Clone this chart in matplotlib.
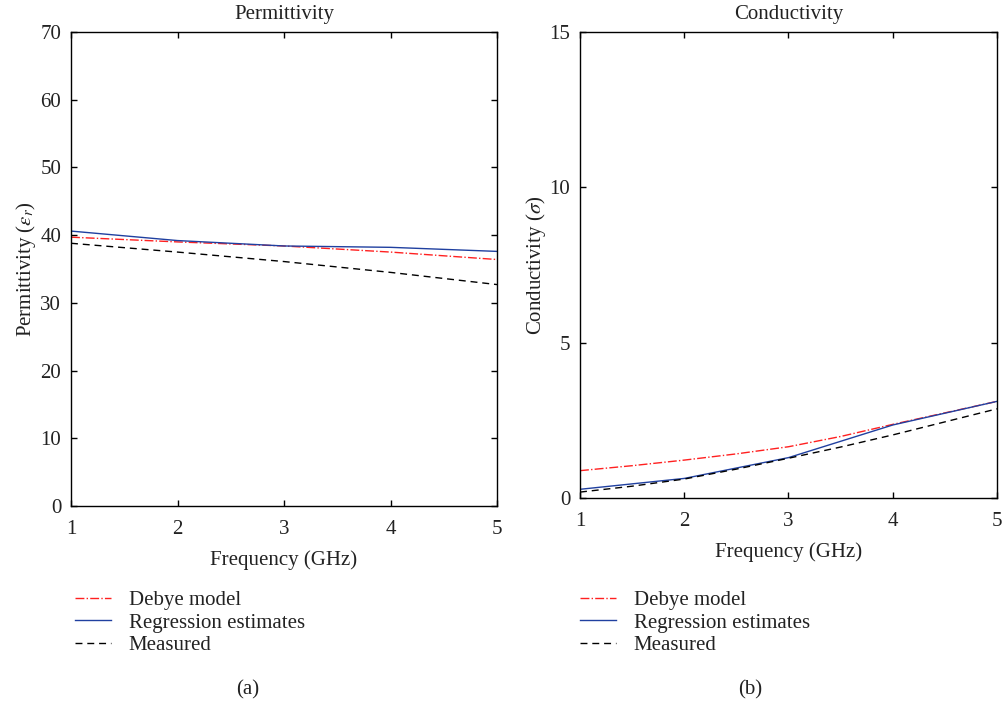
import numpy as np
import matplotlib.pyplot as plt

plt.rcParams['font.family'] = ['Liberation Serif', 'DejaVu Serif']
plt.rcParams['mathtext.fontset'] = 'stix'
plt.rcParams['text.color'] = '#222222'
plt.rcParams['xtick.labelcolor'] = '#222222'
plt.rcParams['ytick.labelcolor'] = '#222222'
plt.rcParams['axes.labelcolor'] = '#222222'

# frequency grid (GHz)
freq = [1, 2, 3, 4, 5]
freq_fine = [1, 1.5, 2, 2.5, 3, 3.5, 4, 4.5, 5]

# permittivity
perm_debye = [39.7, 39.0, 38.4, 37.5, 36.4]
perm_regr = [40.6, 39.2, 38.4, 38.2, 37.6]
perm_meas = [38.8, 37.5, 36.1, 34.5, 32.7]

# conductivity
cond_debye = [0.88, 1.04, 1.22, 1.42, 1.65, 1.98, 2.37, 2.74, 3.11]
cond_regr = [0.28, 0.63, 1.30, 2.35, 3.11]
cond_meas = [0.19, 0.38, 0.61, 0.93, 1.28, 1.64, 2.03, 2.45, 2.87]

labels = ['Debye model', 'Regression estimates', 'Measured']
FS = 15

fig = plt.figure(figsize=(10.03, 7.02), dpi=100)
W, H = 1003, 702
ax1 = fig.add_axes([71 / W, 1 - 506 / H, (497 - 71) / W, (506 - 32) / H])
ax2 = fig.add_axes([580 / W, 1 - 498 / H, (997 - 580) / W, (498 - 32) / H])


def style(ax):
    ax.tick_params(direction='in', top=True, right=True, labelsize=FS,
                   length=4, width=1)
    ax.tick_params(axis='x', pad=10)
    ax.tick_params(axis='y', pad=7)
    for s in ax.spines.values():
        s.set_linewidth(1.0)
    ax.set_xlim(1, 5)
    ax.set_xticks([1, 2, 3, 4, 5])
    ax.set_xlabel('Frequency (GHz)', fontsize=FS, labelpad=8)


l1, = ax1.plot(freq, perm_debye, color='#ff2020', ls='-.', lw=1.0)
l2, = ax1.plot(freq, perm_regr, color='#2040a0', ls='-', lw=1.0)
l3, = ax1.plot(freq, perm_meas, color='black', ls='--', lw=1.0, dashes=(5, 3.5))
ax1.set_ylim(0, 70)
ax1.set_yticks(range(0, 71, 10))
style(ax1)
ax1.set_title('Permittivity', fontsize=FS, pad=9)
ax1.set_ylabel(r'Permittivity ($\varepsilon_r$)', fontsize=FS, labelpad=2)

ax2.plot(freq_fine, cond_debye, color='#ff2020', ls='-.', lw=1.0)
ax2.plot(freq, cond_regr, color='#2040a0', ls='-', lw=1.0)
ax2.plot(freq_fine, cond_meas, color='black', ls='--', lw=1.0, dashes=(5, 3.5))
ax2.set_ylim(0, 15)
ax2.set_yticks([0, 5, 10, 15])
style(ax2)
ax2.set_title('Conductivity', fontsize=FS, pad=9)
ax2.set_ylabel(r'Conductivity ($\sigma$)', fontsize=FS, labelpad=1)

for x0, tag, tx in [(67, '(a)', 248), (572, '(b)', 750)]:
    fig.legend([l1, l2, l3], labels, loc='upper left',
               bbox_to_anchor=(x0 / W, 1 - 582 / H), frameon=False,
               fontsize=FS, handlelength=1.7, handletextpad=0.87,
               labelspacing=0.15, borderaxespad=0)
    fig.text(tx / W, 1 - 690 / H, tag, fontsize=FS, ha='center', va='center')

fig.savefig('out.png', dpi=100)
